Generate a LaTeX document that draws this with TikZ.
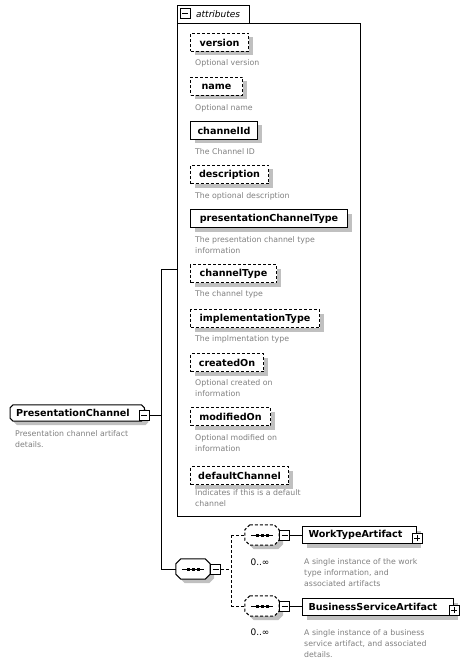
\documentclass[tikz,border=0pt]{standalone}
\usepackage{fontspec}
\setmainfont{DejaVu Sans}
\usetikzlibrary{shadows,calc,backgrounds}
\definecolor{shadowgray}{RGB}{192,192,192}
\definecolor{descgray}{RGB}{128,128,128}
\tikzset{
  sh/.style={drop shadow={shadow xshift=4pt,shadow yshift=-4pt,fill=shadowgray,opacity=1}},
  namefont/.style={font=\fontsize{9.6}{11}\selectfont\bfseries},
  elbox/.style={draw=black,fill=white,line width=1pt,minimum height=18pt,inner sep=0pt,namefont, sh},
  optl/.style={dash pattern=on 3pt off 2pt},
  attr/.style={elbox,anchor=north west},
  optattr/.style={attr,optl},
  desc/.style={anchor=north west,inner sep=0pt,align=left,text=descgray,font=\fontsize{7.8}{11}\selectfont},
  icon/.style={draw=black,fill=white,line width=1pt,minimum size=10pt,inner sep=0pt},
  minusicon/.style={icon,path picture={\draw[line width=1pt] ([xshift=2pt]path picture bounding box.west) -- ([xshift=-2pt]path picture bounding box.east);}},
  plusicon/.style={icon,path picture={\draw[line width=1pt] ([xshift=2pt]path picture bounding box.west) -- ([xshift=-2pt]path picture bounding box.east);
     \draw[line width=1pt] ([yshift=2pt]path picture bounding box.south) -- ([yshift=-2pt]path picture bounding box.north);}},
  seqbox/.style={rectangle, minimum width=34pt, minimum height=20pt, inner sep=0pt},
  conn/.style={line width=1pt},
  optconn/.style={conn,optl},
  card/.style={inner sep=0pt,font=\fontsize{9}{10}\selectfont},
}
% octagon (chamfered box) behind a node, with shadow
\newcommand{\octshape}[3]{%
  \begin{pgfonlayer}{background}
  \fill[shadowgray] let \p1=([xshift=4pt,yshift=-4pt]#1.north west), \p2=([xshift=4pt,yshift=-4pt]#1.south east) in
    (\x1+#2,\y1) -- (\x2-#2,\y1) -- (\x2,\y1-#2) -- (\x2,\y2+#2) -- (\x2-#2,\y2) -- (\x1+#2,\y2) -- (\x1,\y2+#2) -- (\x1,\y1-#2) -- cycle;
  \filldraw[fill=white,draw=black,line width=1pt,#3] let \p1=(#1.north west), \p2=(#1.south east) in
    (\x1+#2,\y1) -- (\x2-#2,\y1) -- (\x2,\y1-#2) -- (\x2,\y2+#2) -- (\x2-#2,\y2) -- (\x1+#2,\y2) -- (\x1,\y2+#2) -- (\x1,\y1-#2) -- cycle;
  \end{pgfonlayer}}
\newcommand{\seqdots}[1]{%
  \draw[line width=1pt] ([xshift=6pt]#1.west) -- ([xshift=-6pt]#1.east);
  \fill[black] ([xshift=-6.5pt,yshift=-1.5pt]#1.center) rectangle ([xshift=-3.5pt,yshift=1.5pt]#1.center);
  \fill[black] ([xshift=-1.5pt,yshift=-1.5pt]#1.center) rectangle ([xshift=1.5pt,yshift=1.5pt]#1.center);
  \fill[black] ([xshift=3.5pt,yshift=-1.5pt]#1.center) rectangle ([xshift=6.5pt,yshift=1.5pt]#1.center);}
\begin{document}
\begin{tikzpicture}[x=1pt,y=-1pt]
\begin{pgfonlayer}{background}
\fill[white] (0,0) rectangle (468,663);
\end{pgfonlayer}
\useasboundingbox (0,0) rectangle (468,663);

% attributes group
\node[draw=black,line width=1pt,fill=white,minimum width=183pt,minimum height=493pt,inner sep=0pt,anchor=north west] (attrs) at (177,23) {};
\node[draw=black,line width=1pt,fill=white,minimum width=72pt,minimum height=18pt,inner sep=0pt,anchor=north west] (attrtab) at (177,5) {};
\node[minusicon] (attricon) at (185,14) {};
\node[anchor=west,inner sep=0pt,font=\fontsize{9}{10}\selectfont\itshape] (attrlabel) at (196,14) {attributes};

\node[optattr,minimum width=58pt] (version) at (190,33) {version};
\node[desc] (versiond) at (195,59) {Optional version};
\node[optattr,minimum width=52pt] (name) at (190,77) {name};
\node[desc] (named) at (195,104) {Optional name};
\node[attr,minimum width=67pt] (channelId) at (190,121) {channelId};
\node[desc] (channelIdd) at (195,148) {The Channel ID};
\node[optattr,minimum width=78pt] (description) at (190,165) {description};
\node[desc] (descriptiond) at (195,192) {The optional description};
\node[attr,minimum width=157pt] (pct) at (190,209) {presentationChannelType};
\node[desc] (pctd) at (195,236) {The presentation channel type\\information};
\node[optattr,minimum width=86pt] (channelType) at (190,264) {channelType};
\node[desc] (channelTyped) at (195,290) {The channel type};
\node[optattr,minimum width=129pt] (implType) at (190,309) {implementationType};
\node[desc] (implTyped) at (195,335) {The implmentation type};
\node[optattr,minimum width=73pt] (createdOn) at (190,353) {createdOn};
\node[desc] (createdOnd) at (195,379) {Optional created on\\information};
\node[optattr,minimum width=80pt] (modifiedOn) at (190,407) {modifiedOn};
\node[desc] (modifiedOnd) at (195,434) {Optional modified on\\information};
\node[optattr,minimum width=98pt] (defaultChannel) at (190,466) {defaultChannel};
\node[desc] (defaultChanneld) at (195,489) {Indicates if this is a default\\channel};

% root element
\node[rectangle,namefont,inner ysep=0pt,inner xsep=6pt,text width=122pt,align=left,minimum height=16pt,anchor=west] (pc) at (10,413) {PresentationChannel};
\octshape{pc}{3pt}{}
\node[minusicon] (pcminus) at ([yshift=-2pt]pc.east) {};
\node[desc] (pcd) at (15,430) {Presentation channel artifact\\details.};

% sequence compositors
\node[seqbox] (seq0) at (193,569) {};
\octshape{seq0}{5pt}{}
\seqdots{seq0}
\node[minusicon,anchor=west] (seq0minus) at (seq0.east) {};
\node[seqbox] (seq1) at (262,535) {};
\octshape{seq1}{5pt}{optl}
\seqdots{seq1}
\node[minusicon,anchor=west] (seq1minus) at (seq1.east) {};
\node[card] (card1) at (260,562) {0..∞};
\node[seqbox] (seq2) at (262,606) {};
\octshape{seq2}{5pt}{optl}
\seqdots{seq2}
\node[minusicon,anchor=west] (seq2minus) at (seq2.east) {};
\node[card] (card2) at (260,632) {0..∞};

% child elements
\node[elbox,inner xsep=6pt,text width=102pt,align=left,minimum height=17pt,anchor=west] (wta) at (302,535) {WorkTypeArtifact};
\node[plusicon] (wtaplus) at ([yshift=-3pt]wta.east) {};
\node[desc] (wtad) at (304,558) {A single instance of the work\\type information, and\\associated artifacts};
\node[elbox,inner xsep=6pt,text width=139pt,align=left,minimum height=17pt,anchor=west] (bsa) at (302,607) {BusinessServiceArtifact};
\node[plusicon] (bsaplus) at ([yshift=-3pt]bsa.east) {};
\node[desc] (bsad) at (304,629) {A single instance of a business\\service artifact, and associated\\details.};

% connectors
\coordinate (j2) at (161,269);
\coordinate (j3) at (161,569);
\coordinate (k2) at (231,535);
\coordinate (k3) at (231,606);
\draw[conn] (pcminus.east) -- (pcminus.east -| j2);
\draw[conn] (j2) -- (j3);
\draw[conn] (j2) -- (j2 -| attrs.west);
\draw[conn] (j3) -- (seq0.west);
\draw[optconn] (seq0minus.east) -- (seq0minus.east -| k2);
\draw[optconn] (k2) -- (k3);
\draw[optconn] (k2) -- (seq1.west);
\draw[optconn] (k3) -- (seq2.west);
\draw[conn] (seq1minus.east) -- (seq1minus.east -| wta.west);
\draw[conn] (seq2minus.east) -- (seq2minus.east -| bsa.west);
\end{tikzpicture}
\end{document}
